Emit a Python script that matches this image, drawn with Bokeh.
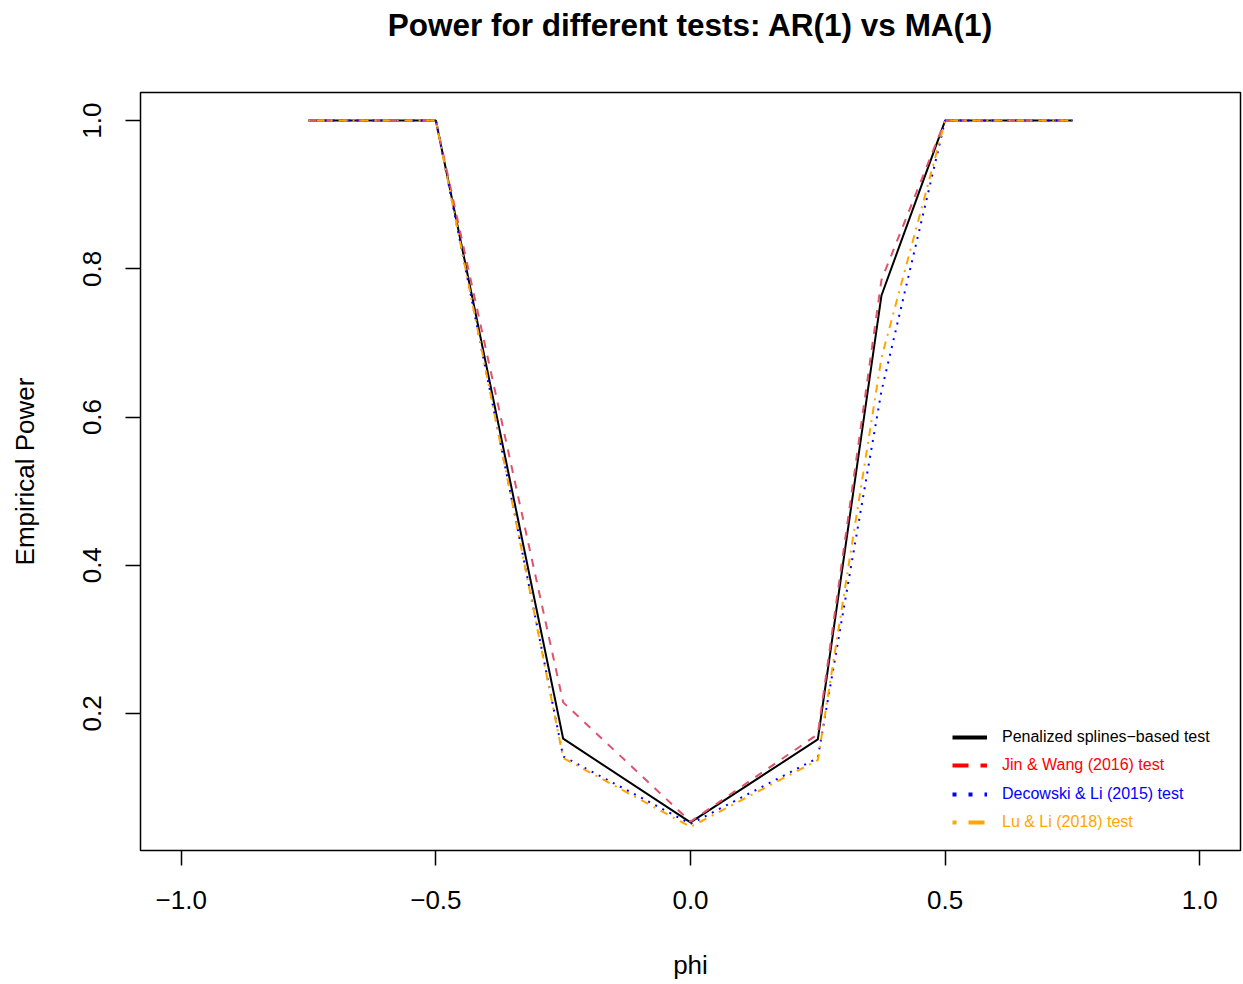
from bokeh.plotting import figure
from bokeh.models import Range1d, FixedTicker, Legend, LegendItem, Title
from bokeh.embed import file_html
from bokeh.resources import INLINE

# ---- data ----
phi = [-0.75, -0.5, -0.25, 0.0, 0.25, 0.375, 0.5, 0.75]
penalized = [1.0, 1.0, 0.166, 0.053, 0.165, 0.764, 1.0, 1.0]
jin_wang = [1.0, 1.0, 0.215, 0.054, 0.172, 0.785, 1.0, 1.0]
decowski_li = [1.0, 1.0, 0.142, 0.051, 0.140, 0.635, 1.0, 1.0]
lu_li = [1.0, 1.0, 0.140, 0.047, 0.137, 0.680, 1.0, 1.0]

x_ticks = [-1.0, -0.5, 0.0, 0.5, 1.0]
x_tick_labels = ["\u22121.0", "\u22120.5", "0.0", "0.5", "1.0"]
y_ticks = [0.2, 0.4, 0.6, 0.8, 1.0]
y_tick_labels = ["0.2", "0.4", "0.6", "0.8", "1.0"]

legend_labels = ["Penalized splines\u2212based test", "Jin & Wang (2016) test",
                 "Decowski & Li (2015) test", "Lu & Li (2018) test"]
title_text = "Power for different tests: AR(1) vs MA(1)"

FONT = "Liberation Sans"

# R-style ranges (4% extension)
xlo, xhi = -1.0, 1.0
xpad = 0.04 * (xhi - xlo)
ylo, yhi = min(penalized), max(penalized)
ypad = 0.04 * (yhi - ylo)

p = figure(width=1243, height=984, output_backend="svg", toolbar_location=None,
           x_range=Range1d(xlo - xpad, xhi + xpad),
           y_range=Range1d(ylo - ypad, yhi + ypad),
           min_border_left=140, min_border_right=3, min_border_top=92, min_border_bottom=134)

# spacer panel next to the frame, then the main title further out
spacer = Title(text=" ", text_font_size="1px", standoff=43)
p.add_layout(spacer, "above")
main_title = Title(text=title_text, align="center", text_font=FONT,
                   text_font_size="31.5px", text_font_style="bold",
                   text_color="black", standoff=7)
p.add_layout(main_title, "above")

p.background_fill_color = "white"
p.border_fill_color = "white"
p.outline_line_color = "black"
p.outline_line_width = 1.5
p.xgrid.visible = False
p.ygrid.visible = False

for ax in (p.xaxis[0], p.yaxis[0]):
    ax.axis_line_color = None
    ax.major_tick_in = 0
    ax.major_tick_out = 15
    ax.major_tick_line_width = 1.5
    ax.minor_tick_line_color = None
    ax.major_label_text_font = FONT
    ax.major_label_text_font_size = "26px"
    ax.major_label_text_color = "black"
    ax.axis_label_text_font = FONT
    ax.axis_label_text_font_size = "26px"
    ax.axis_label_text_font_style = "normal"
    ax.axis_label_text_color = "black"

p.xaxis.ticker = FixedTicker(ticks=x_ticks)
p.xaxis.major_label_overrides = dict(zip(x_ticks, x_tick_labels))
p.xaxis.axis_label = "phi"
p.xaxis.major_label_standoff = 25
p.xaxis.axis_label_standoff = 38

p.yaxis.ticker = FixedTicker(ticks=y_ticks)
p.yaxis.major_label_overrides = dict(zip(y_ticks, y_tick_labels))
p.yaxis.major_label_orientation = "vertical"
p.yaxis.axis_label = "Empirical Power"
p.yaxis.major_label_standoff = 24
p.yaxis.axis_label_standoff = 41

# data lines
p.line(phi, penalized, line_color="black", line_width=2)
p.line(phi, jin_wang, line_color="#DF536B", line_width=2, line_dash="8 8")
p.line(phi, decowski_li, line_color="blue", line_width=2, line_dash="2 6")
p.line(phi, lu_li, line_color="orange", line_width=2, line_dash="2 6 8 6")

# legend (one Legend per entry so each label gets its own colour);
# swatch renderers sit outside the visible range
off_x = [xlo - 10, xlo - 9]
off_y = [ylo - 10, ylo - 10]
leg_styles = [("black", "solid"), ("red", "16 12"), ("blue", "4 12"), ("orange", "4 12 16 12")]
for i, (lab, (col, dash)) in enumerate(zip(legend_labels, leg_styles)):
    r = p.line(off_x, off_y, line_color=col, line_width=4, line_dash=dash)
    lg = Legend(items=[LegendItem(label=lab, renderers=[r])],
                location=(812, 103 - i * 28.3),
                label_text_color=col, label_text_font=FONT, label_text_font_size="16px",
                glyph_width=35, glyph_height=20, label_height=20, label_standoff=15,
                padding=0, margin=0, spacing=0,
                background_fill_alpha=0, border_line_alpha=0)
    p.add_layout(lg, "center")

open("out.html", "w").write(file_html(p, INLINE))
